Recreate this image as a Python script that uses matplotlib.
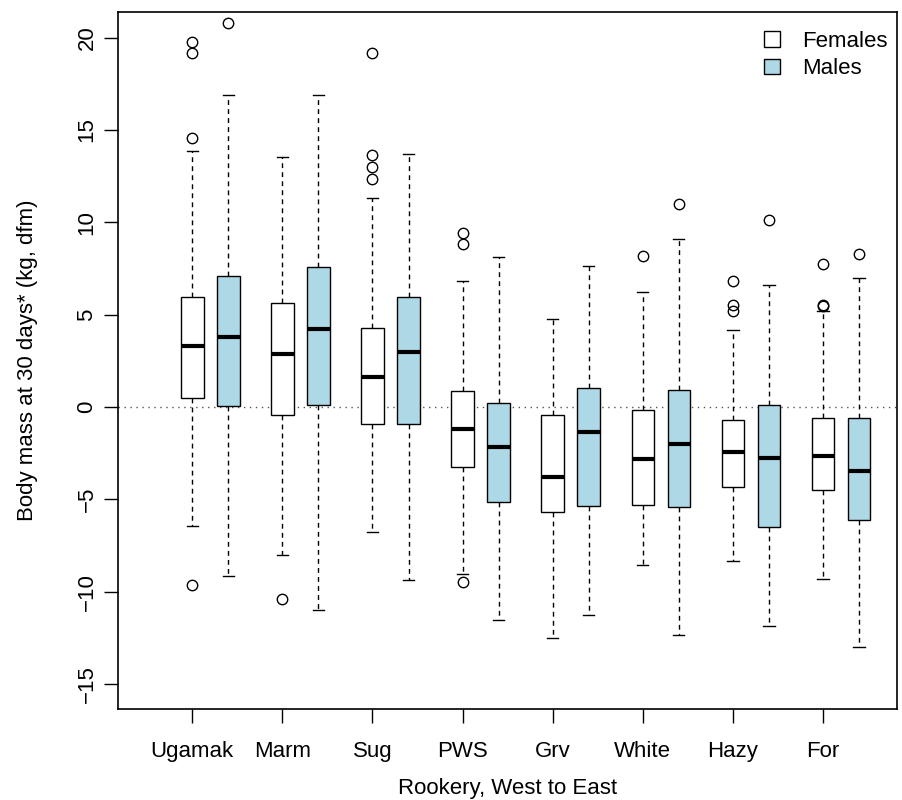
import numpy as np
import matplotlib
matplotlib.use('Agg')
import matplotlib.pyplot as plt
from matplotlib.patches import Patch

plt.rcParams['font.family'] = ['Liberation Sans', 'DejaVu Sans']

rookeries = ['Ugamak', 'Marm', 'Sug', 'PWS', 'Grv', 'White', 'Hazy', 'For']

# values (kg)
fem_q1 = [0.50, -0.45, -0.90, -3.25, -5.69, -5.31, -4.35, -4.49]
fem_med = [3.30, 2.87, 1.64, -1.21, -3.79, -2.83, -2.42, -2.65]
fem_q3 = [5.97, 5.65, 4.26, 0.85, -0.41, -0.14, -0.68, -0.61]
fem_lo = [-6.44, -8.00, -6.77, -9.04, -12.49, -8.54, -8.32, -9.33]
fem_hi = [13.88, 13.54, 11.34, 6.81, 4.77, 6.24, 4.19, 5.18]
fem_out = [
    [14.55, 19.15, 19.75, -9.64],
    [-10.40],
    [12.35, 13.01, 13.63, 19.15],
    [9.44, 8.81, -9.46],
    [],
    [8.19],
    [6.82, 5.51, 5.18],
    [7.73, 5.54, 5.45],
]

male_q1 = [0.05, 0.09, -0.90, -5.16, -5.36, -5.43, -6.52, -6.12]
male_med = [3.79, 4.21, 2.99, -2.17, -1.34, -2.01, -2.78, -3.48]
male_q3 = [7.11, 7.60, 5.97, 0.23, 1.05, 0.90, 0.13, -0.60]
male_lo = [-9.13, -10.98, -9.39, -11.55, -11.25, -12.35, -11.84, -12.98]
male_hi = [16.88, 16.91, 13.70, 8.12, 7.65, 9.08, 6.62, 6.99]
male_out = [
    [20.78],
    [],
    [],
    [],
    [],
    [10.98],
    [10.13],
    [8.29],
]


def make_stats(q1, med, q3, lo, hi, out):
    stats = []
    for i in range(len(q1)):
        stats.append(dict(q1=q1[i], med=med[i], q3=q3[i],
                          whislo=lo[i], whishi=hi[i], fliers=out[i]))
    return stats


fig = plt.figure(figsize=(9.03, 8.0), dpi=100)
ax = fig.add_axes([0.131, 0.1134, 0.862, 0.872])

pos = np.arange(1, 9)
w = 0.25

ax.axhline(0, color='#555555', linestyle=(0, (1, 3.3)), lw=1, zorder=0)

common = dict(widths=w, patch_artist=True, capwidths=w / 2,
              whiskerprops=dict(color='black', lw=1, linestyle=(0, (3.5, 3))),
              capprops=dict(color='black', lw=1),
              medianprops=dict(color='black', lw=3, solid_capstyle='butt'),
              flierprops=dict(marker='o', markerfacecolor='none',
                              markeredgecolor='black', markersize=7.5,
                              markeredgewidth=1, linestyle='none'),
              manage_ticks=False)

ax.bxp(make_stats(fem_q1, fem_med, fem_q3, fem_lo, fem_hi, fem_out),
       positions=pos,
       boxprops=dict(facecolor='white', edgecolor='black', lw=1),
       **common)
ax.bxp(make_stats(male_q1, male_med, male_q3, male_lo, male_hi, male_out),
       positions=pos + 0.4,
       boxprops=dict(facecolor='lightblue', edgecolor='black', lw=1),
       **common)

ax.set_xlim(0.179, 8.818)
ax.set_ylim(-16.37, 21.41)
ax.set_xticks(pos)
ax.set_xticklabels(rookeries)
ax.set_yticks(np.arange(-15, 21, 5))
ax.set_yticklabels([str(v).replace('-', '\u2212') for v in range(-15, 21, 5)],
                   rotation=90, va='center')
ax.tick_params(axis='x', length=10, width=1, pad=13, labelsize=16)
ax.tick_params(axis='y', length=10, width=1, pad=5, labelsize=16)
for s in ax.spines.values():
    s.set_linewidth(1.2)

ax.set_xlabel('Rookery, West to East', fontsize=16, labelpad=11)
ax.set_ylabel('Body mass at 30 days* (kg, dfm)', fontsize=16, labelpad=28)

handles = [Patch(facecolor='white', edgecolor='black', lw=1),
           Patch(facecolor='lightblue', edgecolor='black', lw=1)]
ax.legend(handles, ['Females', 'Males'], loc='upper left',
          bbox_to_anchor=(0.830, 0.973), frameon=False, fontsize=16,
          handlelength=0.7, handleheight=0.7, handletextpad=1.0,
          labelspacing=0.3, borderpad=0, borderaxespad=0)

fig.savefig('out.png', dpi=100)
